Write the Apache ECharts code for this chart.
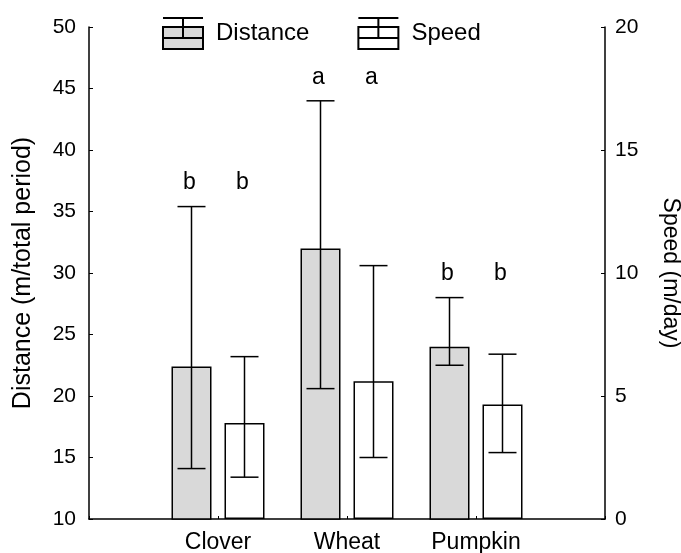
<!DOCTYPE html>
<html>
<head>
<meta charset="utf-8">
<script src="https://cdn.jsdelivr.net/npm/echarts@6/dist/echarts.min.js"></script>
<style>
  html, body { margin: 0; padding: 0; background: #fff; }
  #chart { width: 681px; height: 553px; }
</style>
</head>
<body>
<div id="chart"></div>
<script>
// values
const categories = ['Clover', 'Wheat', 'Pumpkin']
const distMean = [22.4, 32.0, 24.0]
const distLow = [14.1, 20.6, 22.5]
const distHigh = [35.4, 44.0, 28.0]
const speedMean = [3.9, 5.6, 4.65]
const speedLow = [1.7, 2.5, 2.7]
const speedHigh = [6.6, 10.3, 6.7]
const distLetters = ['b', 'a', 'b']
const speedLetters = ['b', 'a', 'b']
const distTicks = [10, 50, 5]   // min, max, step
const speedTicks = [0, 20, 5]

const FONT = '"Liberation Sans", Arial, sans-serif'
const BAR_W = 40
const BAR_GAP = 13 // px between the two bars of a group
const HALF = (BAR_W + BAR_GAP) / 2
const CAP = 14

// empty slots at both ends so the groups sit on 1..3 of a 0..4 axis
const axisCats = ['', ...categories, '']
const pad = arr => [null, ...arr, null]

const legendIcon = 'path://M0,0 L40,0 M20,0 L20,20 M0,9 L40,9 L40,31 L0,31 Z M0,20 L40,20'

function errorBars(side) {
  return function (params, api) {
    const cat = api.value(0)
    const top = api.coord([cat, api.value(3)])
    const bot = api.coord([cat, api.value(2)])
    const x = top[0] + side * HALF
    const style = { stroke: '#000', lineWidth: 1.5 }
    return {
      type: 'group',
      children: [
        { type: 'line', shape: { x1: x, y1: top[1], x2: x, y2: bot[1] }, style },
        { type: 'line', shape: { x1: x - CAP, y1: top[1], x2: x + CAP, y2: top[1] }, style },
        { type: 'line', shape: { x1: x - CAP, y1: bot[1], x2: x + CAP, y2: bot[1] }, style },
      ],
    }
  }
}

const chart = echarts.init(document.getElementById('chart'))

const axisCommon = {
  axisLine: { show: true, lineStyle: { color: '#000', width: 1.5 } },
  axisTick: { show: true, inside: true, length: 4, lineStyle: { color: '#000', width: 1 } },
  splitLine: { show: false },
  axisLabel: { color: '#000', fontFamily: FONT, fontSize: 21 },
  nameLocation: 'middle',
}

chart.setOption({
  animation: false,
  backgroundColor: '#fff',
  textStyle: { fontFamily: FONT },
  grid: { left: 89, right: 76, top: 27, bottom: 34, outerBoundsMode: 'none', containLabel: false },
  legend: {
    left: 157,
    top: 12,
    itemWidth: 40,
    itemHeight: 31,
    itemGap: 48,
    selectedMode: false,
    textStyle: { color: '#000', fontFamily: FONT, fontSize: 24, padding: [0, 0, 12, 8] },
    data: [
      { name: 'Distance', icon: legendIcon },
      { name: 'Speed', icon: legendIcon },
    ],
  },
  xAxis: {
    type: 'category',
    data: axisCats,
    boundaryGap: false,
    axisLine: { lineStyle: { color: '#000', width: 1.5 } },
    axisTick: { show: true, inside: true, length: 3, lineStyle: { color: '#000' } },
    axisLabel: { color: '#000', fontFamily: FONT, fontSize: 23, margin: 12, interval: 0 },
  },
  yAxis: [
    {
      ...axisCommon,
      type: 'value',
      position: 'left',
      min: distTicks[0],
      max: distTicks[1],
      interval: distTicks[2],
      name: 'Distance (m/total period)',
      nameRotate: 90,
      nameGap: 53,
      nameTextStyle: { color: '#000', fontFamily: FONT, fontSize: 25 },
      axisLabel: { ...axisCommon.axisLabel, margin: 13 },
    },
    {
      ...axisCommon,
      type: 'value',
      position: 'right',
      min: speedTicks[0],
      max: speedTicks[1],
      interval: speedTicks[2],
      name: 'Speed (m/day)',
      nameRotate: -90,
      nameGap: 54,
      nameTextStyle: { color: '#000', fontFamily: FONT, fontSize: 23 },
      axisLabel: { ...axisCommon.axisLabel, margin: 10 },
    },
  ],
  series: [
    {
      name: 'Distance',
      type: 'bar',
      yAxisIndex: 0,
      data: pad(distMean),
      barWidth: BAR_W,
      barGap: (BAR_GAP / BAR_W * 100) + '%',
      itemStyle: { color: '#d9d9d9', borderColor: '#000', borderWidth: 1.5 },
    },
    {
      name: 'Speed',
      type: 'bar',
      yAxisIndex: 1,
      data: pad(speedMean),
      barWidth: BAR_W,
      itemStyle: { color: '#fff', borderColor: '#000', borderWidth: 1.5 },
    },
    {
      type: 'custom',
      yAxisIndex: 0,
      z: 5,
      renderItem: errorBars(-1),
      data: categories.map((c, i) => [i + 1, distMean[i], distLow[i], distHigh[i]]),
    },
    {
      type: 'custom',
      yAxisIndex: 1,
      z: 5,
      renderItem: errorBars(1),
      data: categories.map((c, i) => [i + 1, speedMean[i], speedLow[i], speedHigh[i]]),
    },
  ],
})

// significance letters: one row per group, above the higher of the two caps
const letterGraphics = []
categories.forEach((c, i) => {
  const cx = chart.convertToPixel({ xAxisIndex: 0 }, i + 1)
  const yd = chart.convertToPixel({ yAxisIndex: 0 }, distHigh[i])
  const ys = chart.convertToPixel({ yAxisIndex: 1 }, speedHigh[i])
  const y = Math.min(yd, ys) - 12
  ;[[distLetters[i], -1], [speedLetters[i], 1]].forEach(([t, side]) => {
    letterGraphics.push({
      type: 'text',
      x: cx + side * HALF - 2,
      y,
      style: {
        text: t,
        fill: '#000',
        font: '23px ' + FONT,
        align: 'center',
        verticalAlign: 'bottom',
      },
    })
  })
})
chart.setOption({ graphic: letterGraphics })
</script>
</body>
</html>
